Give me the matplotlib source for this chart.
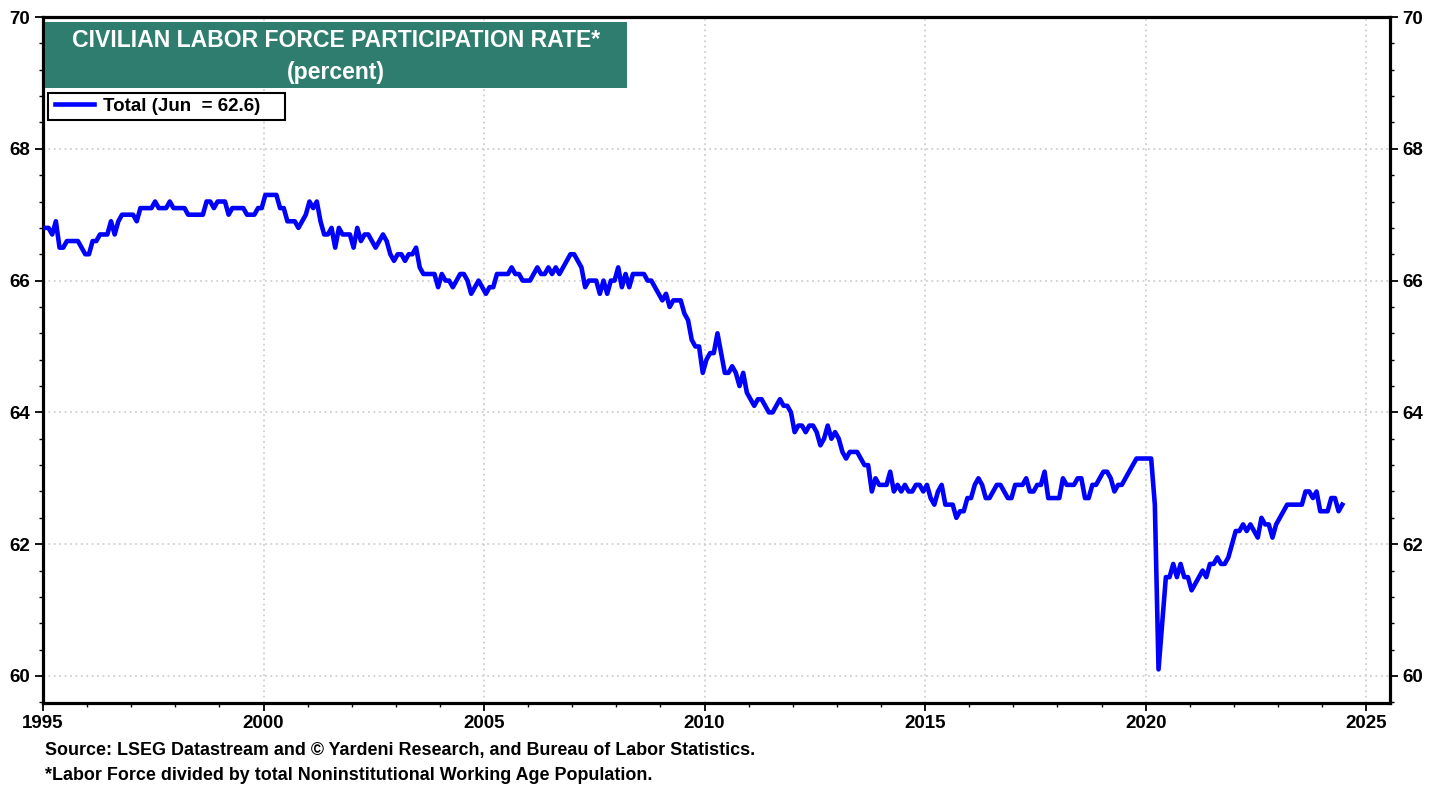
import numpy as np
import matplotlib.pyplot as plt
from matplotlib.ticker import MultipleLocator
from matplotlib.patches import Rectangle

plt.rcParams['font.family'] = ['Liberation Sans', 'DejaVu Sans']
plt.rcParams['font.weight'] = 'bold'

# ── Data: monthly civilian labor force participation rate, Jan 1995 - Jun 2024 ──
start_year = 1995
lfpr = [
    66.8, 66.8, 66.7, 66.9, 66.5, 66.5, 66.6, 66.6, 66.6, 66.6, 66.5, 66.4,  # 1995
    66.4, 66.6, 66.6, 66.7, 66.7, 66.7, 66.9, 66.7, 66.9, 67.0, 67.0, 67.0,  # 1996
    67.0, 66.9, 67.1, 67.1, 67.1, 67.1, 67.2, 67.1, 67.1, 67.1, 67.2, 67.1,  # 1997
    67.1, 67.1, 67.1, 67.0, 67.0, 67.0, 67.0, 67.0, 67.2, 67.2, 67.1, 67.2,  # 1998
    67.2, 67.2, 67.0, 67.1, 67.1, 67.1, 67.1, 67.0, 67.0, 67.0, 67.1, 67.1,  # 1999
    67.3, 67.3, 67.3, 67.3, 67.1, 67.1, 66.9, 66.9, 66.9, 66.8, 66.9, 67.0,  # 2000
    67.2, 67.1, 67.2, 66.9, 66.7, 66.7, 66.8, 66.5, 66.8, 66.7, 66.7, 66.7,  # 2001
    66.5, 66.8, 66.6, 66.7, 66.7, 66.6, 66.5, 66.6, 66.7, 66.6, 66.4, 66.3,  # 2002
    66.4, 66.4, 66.3, 66.4, 66.4, 66.5, 66.2, 66.1, 66.1, 66.1, 66.1, 65.9,  # 2003
    66.1, 66.0, 66.0, 65.9, 66.0, 66.1, 66.1, 66.0, 65.8, 65.9, 66.0, 65.9,  # 2004
    65.8, 65.9, 65.9, 66.1, 66.1, 66.1, 66.1, 66.2, 66.1, 66.1, 66.0, 66.0,  # 2005
    66.0, 66.1, 66.2, 66.1, 66.1, 66.2, 66.1, 66.2, 66.1, 66.2, 66.3, 66.4,  # 2006
    66.4, 66.3, 66.2, 65.9, 66.0, 66.0, 66.0, 65.8, 66.0, 65.8, 66.0, 66.0,  # 2007
    66.2, 65.9, 66.1, 65.9, 66.1, 66.1, 66.1, 66.1, 66.0, 66.0, 65.9, 65.8,  # 2008
    65.7, 65.8, 65.6, 65.7, 65.7, 65.7, 65.5, 65.4, 65.1, 65.0, 65.0, 64.6,  # 2009
    64.8, 64.9, 64.9, 65.2, 64.9, 64.6, 64.6, 64.7, 64.6, 64.4, 64.6, 64.3,  # 2010
    64.2, 64.1, 64.2, 64.2, 64.1, 64.0, 64.0, 64.1, 64.2, 64.1, 64.1, 64.0,  # 2011
    63.7, 63.8, 63.8, 63.7, 63.8, 63.8, 63.7, 63.5, 63.6, 63.8, 63.6, 63.7,  # 2012
    63.6, 63.4, 63.3, 63.4, 63.4, 63.4, 63.3, 63.2, 63.2, 62.8, 63.0, 62.9,  # 2013
    62.9, 62.9, 63.1, 62.8, 62.9, 62.8, 62.9, 62.8, 62.8, 62.9, 62.9, 62.8,  # 2014
    62.9, 62.7, 62.6, 62.8, 62.9, 62.6, 62.6, 62.6, 62.4, 62.5, 62.5, 62.7,  # 2015
    62.7, 62.9, 63.0, 62.9, 62.7, 62.7, 62.8, 62.9, 62.9, 62.8, 62.7, 62.7,  # 2016
    62.9, 62.9, 62.9, 63.0, 62.8, 62.8, 62.9, 62.9, 63.1, 62.7, 62.7, 62.7,  # 2017
    62.7, 63.0, 62.9, 62.9, 62.9, 63.0, 63.0, 62.7, 62.7, 62.9, 62.9, 63.0,  # 2018
    63.1, 63.1, 63.0, 62.8, 62.9, 62.9, 63.0, 63.1, 63.2, 63.3, 63.3, 63.3,  # 2019
    63.3, 63.3, 62.6, 60.1, 60.8, 61.5, 61.5, 61.7, 61.5, 61.7, 61.5, 61.5,  # 2020
    61.3, 61.4, 61.5, 61.6, 61.5, 61.7, 61.7, 61.8, 61.7, 61.7, 61.8, 62.0,  # 2021
    62.2, 62.2, 62.3, 62.2, 62.3, 62.2, 62.1, 62.4, 62.3, 62.3, 62.1, 62.3,  # 2022
    62.4, 62.5, 62.6, 62.6, 62.6, 62.6, 62.6, 62.8, 62.8, 62.7, 62.8, 62.5,  # 2023
    62.5, 62.5, 62.7, 62.7, 62.5, 62.6,                                      # 2024
]
legend_label = "Total (Jun  = 62.6)"
title_lines = ["CIVILIAN LABOR FORCE PARTICIPATION RATE*", "(percent)"]
footer_lines = [
    "Source: LSEG Datastream and \u00a9 Yardeni Research, and Bureau of Labor Statistics.",
    "*Labor Force divided by total Noninstitutional Working Age Population.",
]

# ── Figure ──
W, H = 1441, 787
fig = plt.figure(figsize=(W / 100, H / 100), dpi=100)
ax = fig.add_axes([43 / W, 1 - 703 / H, (1390 - 43) / W, (703 - 17) / H])

t = start_year + (np.arange(len(lfpr)) + 0.5) / 12
ax.plot(t, lfpr, color="#0000FF", lw=3.3, label=legend_label, zorder=4)

ax.set_xlim(1995, 2025.54)
ax.set_ylim(59.59, 70)
ax.xaxis.set_major_locator(MultipleLocator(5))
ax.xaxis.set_minor_locator(MultipleLocator(1))
ax.yaxis.set_major_locator(MultipleLocator(2))
ax.yaxis.set_minor_locator(MultipleLocator(0.4))
ax.grid(which="major", color="#cfcfcf", linestyle=(0, (1, 2)), lw=1.3)

for sp in ax.spines.values():
    sp.set_linewidth(2.3)
    sp.set_color("black")

ax.tick_params(axis="both", which="both", direction="out", labelsize=13.5)
ax.tick_params(axis="y", which="both", left=True, right=True, labelleft=True, labelright=True)
ax.tick_params(axis="both", which="major", length=6, width=1.3, pad=3)
ax.tick_params(axis="both", which="minor", length=3, width=1.0)
ax.tick_params(axis="x", which="major", pad=3)
ax.yaxis.set_major_formatter(plt.FuncFormatter(lambda v, p: f"{v:.0f}"))

# title box
ax.add_patch(Rectangle((0.0015, 0.8965), 0.432, 0.0962, transform=ax.transAxes,
                       facecolor="#2E7D6E", edgecolor="none", zorder=5))
ax.text(0.2175, 0.9655, title_lines[0], transform=ax.transAxes, color="white",
        fontsize=16.6, ha="center", va="center", zorder=6)
ax.text(0.2175, 0.919, title_lines[1], transform=ax.transAxes, color="white",
        fontsize=16.6, ha="center", va="center", zorder=6)

# legend: own frame, entry placed inside it
ax.add_patch(Rectangle((0.0037, 0.8499), 0.176, 0.0393, transform=ax.transAxes,
                       facecolor="white", edgecolor="black", lw=1.5, zorder=5))
leg = ax.legend(loc="center left", bbox_to_anchor=(0.0089, 0.8696), fontsize=13.5,
                handlelength=2.1, borderaxespad=0, borderpad=0.0, handletextpad=0.45,
                frameon=False)
leg.set_zorder(6)

fig.text(45 / W, 1 - 750 / H, footer_lines[0], fontsize=12.9, va="center")
fig.text(45 / W, 1 - 776 / H, footer_lines[1], fontsize=12.9, va="center")

fig.savefig("out.png", dpi=100)
